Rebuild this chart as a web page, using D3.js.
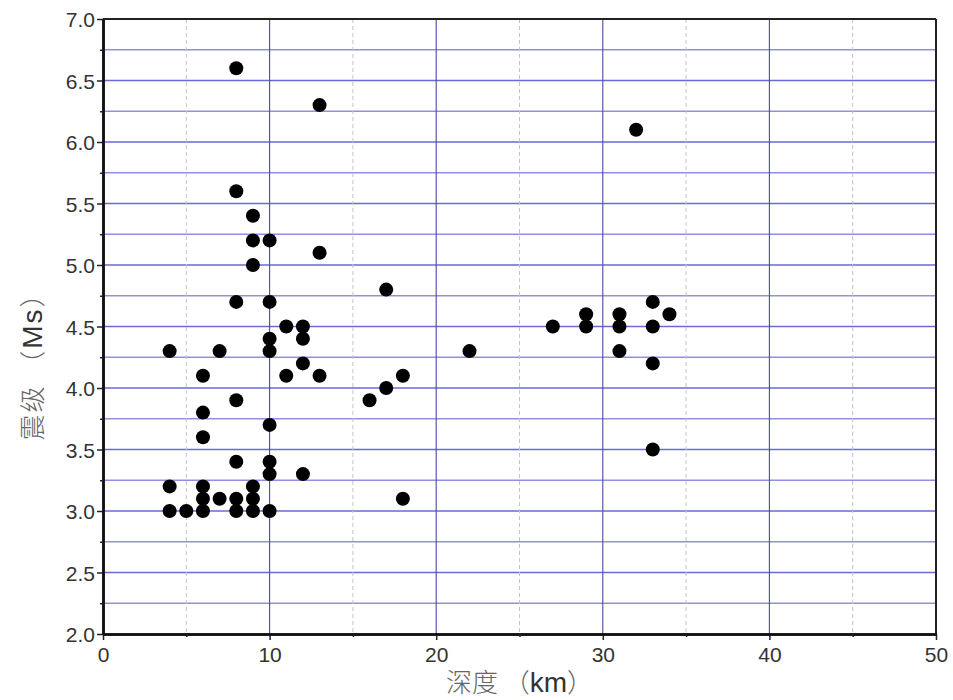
<!DOCTYPE html>
<html><head><meta charset="utf-8">
<script src="https://cdn.jsdelivr.net/npm/d3@7"></script>
<style>body{margin:0;background:#fff}</style>
</head><body>
<svg id="c" width="953" height="700"></svg>
<script>
const depth = [8,13,32,8,9,9,10,13,9,17,8,10,33,29,31,34,11,12,27,29,31,33,10,12,4,7,10,22,31,12,33,6,11,13,18,17,8,16,6,10,6,33,8,10,10,12,4,6,9,6,7,8,9,18,4,5,6,8,9,10];
const mag   = [6.6,6.3,6.1,5.6,5.4,5.2,5.2,5.1,5.0,4.8,4.7,4.7,4.7,4.6,4.6,4.6,4.5,4.5,4.5,4.5,4.5,4.5,4.4,4.4,4.3,4.3,4.3,4.3,4.3,4.2,4.2,4.1,4.1,4.1,4.1,4.0,3.9,3.9,3.8,3.7,3.6,3.5,3.4,3.4,3.3,3.3,3.2,3.2,3.2,3.1,3.1,3.1,3.1,3.1,3.0,3.0,3.0,3.0,3.0,3.0];
const xTicks = [0,10,20,30,40,50];
const xMinor = [5,15,25,35,45];
const yTicks = [2.0,2.5,3.0,3.5,4.0,4.5,5.0,5.5,6.0,6.5,7.0];
const yMinor = [2.25,2.75,3.25,3.75,4.25,4.75,5.25,5.75,6.25,6.75];
const xTitleCJK = "深度", xTitleUnit = "km";
const yTitleCJK = "震级", yTitleUnit = "Ms";

const L=103,R=936,T=19,B=634;
const svg=d3.select("#c");
const x=d3.scaleLinear().domain([0,50]).range([L,R]);
const y=d3.scaleLinear().domain([2,7]).range([B,T]);

svg.append("g").selectAll("line").data(yTicks.concat(yMinor).filter(v=>v>2&&v<7)).join("line")
 .attr("x1",L).attr("x2",R).attr("y1",d=>y(d)).attr("y2",d=>y(d))
 .attr("stroke",d=>yTicks.includes(d)?"#6a6ad8":"#8f8fe6").attr("stroke-width",1.3);
svg.append("g").selectAll("line").data(xMinor).join("line")
 .attr("x1",d=>x(d)).attr("x2",d=>x(d)).attr("y1",T).attr("y2",B)
 .attr("stroke","#c4c4c4").attr("stroke-width",1).attr("stroke-dasharray","4,3");
svg.append("g").selectAll("line").data(xTicks.filter(v=>v>0&&v<50)).join("line")
 .attr("x1",d=>x(d)).attr("x2",d=>x(d)).attr("y1",T).attr("y2",B)
 .attr("stroke","#4a4aa0").attr("stroke-width",1.1);

svg.append("line").attr("x1",L).attr("x2",R).attr("y1",T).attr("y2",T).attr("stroke","#222").attr("stroke-width",2);
svg.append("line").attr("x1",R).attr("x2",R).attr("y1",T).attr("y2",B).attr("stroke","#222").attr("stroke-width",2);

const xAxis=svg.append("g").attr("transform",`translate(0,${B})`)
 .call(d3.axisBottom(x).tickValues(xTicks).tickFormat(d3.format("d")).tickSize(6).tickSizeOuter(0));
const xAxisMinor=svg.append("g").attr("transform",`translate(0,${B})`)
 .call(d3.axisBottom(x).tickValues(xMinor).tickFormat("").tickSize(3).tickSizeOuter(0));
const yAxis=svg.append("g").attr("transform",`translate(${L},0)`)
 .call(d3.axisLeft(y).tickValues(yTicks).tickFormat(d3.format(".1f")).tickSize(6).tickSizeOuter(0));
const yAxisMinor=svg.append("g").attr("transform",`translate(${L},0)`)
 .call(d3.axisLeft(y).tickValues(yMinor).tickFormat("").tickSize(3).tickSizeOuter(0));
[xAxis,xAxisMinor,yAxis,yAxisMinor].forEach(g=>{
  g.select(".domain").attr("stroke","#111").attr("stroke-width",2.5);
  g.selectAll(".tick line").attr("stroke","#222").attr("stroke-width",1.5);
  g.selectAll("text").attr("fill","#333").style("font-family","Liberation Sans, Arial, sans-serif").style("font-size","21px");
});
xAxis.selectAll("text").attr("dy","0.9em");
yAxis.selectAll("text").attr("x",-8).attr("dy","0.36em");

svg.append("g").selectAll("circle").data(depth.map((d,i)=>[d,mag[i]])).join("circle")
 .attr("cx",d=>x(d[0])).attr("cy",d=>y(d[1])).attr("r",7).attr("fill","#000");

function title(sel, cjk, unit){
  sel.append("tspan").attr("fill","#666").style("font-family","Noto Sans CJK SC").style("font-weight","300").text(cjk+" （");
  sel.append("tspan").attr("fill","#333").style("font-family","Liberation Sans, Arial, sans-serif").style("font-size","28px").text(unit);
  sel.append("tspan").attr("fill","#666").style("font-family","Noto Sans CJK SC").style("font-weight","300").text("）");
}
const xt=svg.append("text").attr("x",(L+R)/2).attr("y",692).attr("text-anchor","middle").style("font-size","26px");
title(xt,xTitleCJK,xTitleUnit);
const yt=svg.append("text").attr("transform","translate(42,360) rotate(-90)").attr("text-anchor","middle").style("font-size","26px").style("letter-spacing","2px");
title(yt,yTitleCJK,yTitleUnit);
</script>
</body></html>
